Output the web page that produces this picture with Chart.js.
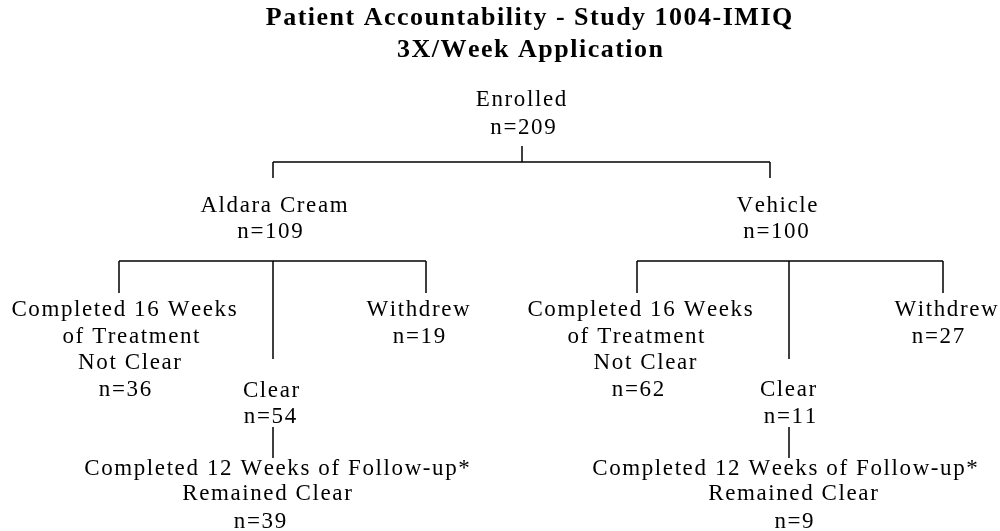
<!DOCTYPE html>
<html>
<head>
<meta charset="utf-8">
<script src="https://cdn.jsdelivr.net/npm/chart.js@4.4.1/dist/chart.umd.min.js"></script>
<style>
  html, body { margin: 0; padding: 0; background: #fff; }
  #flow { display: block; }
</style>
</head>
<body>
<canvas id="flow" width="1000" height="531"></canvas>
<script>
// chart text
const titleLines = ["Patient Accountability - Study 1004-IMIQ", "3X/Week Application"];

// flowchart boxes: label lines, patient counts, parent box
const nodeNames = [
    ["Enrolled"],
    ["Aldara Cream"],
    ["Vehicle"],
    ["Completed 16 Weeks", "of Treatment", "Not Clear"],
    ["Clear"],
    ["Withdrew"],
    ["Completed 12 Weeks of Follow-up*", "Remained Clear"],
    ["Completed 16 Weeks", "of Treatment", "Not Clear"],
    ["Clear"],
    ["Withdrew"],
    ["Completed 12 Weeks of Follow-up*", "Remained Clear"]
];
const nodeCounts = [209, 109, 100, 36, 54, 19, 39, 62, 11, 27, 9];
const nodeParents = [null, 0, 0, 1, 1, 1, 4, 2, 2, 2, 8];

// layout in chart units (x: 0..1000, y: 0..531 top-down)
const nodeX = [522, 273, 770, 119, 273, 426, 273, 637, 789, 943, 789];   // connector x
const nodeTop = [null, 178, 178, 293, 359, 293, 458, 293, 359, 293, 458]; // connector end
const barY = { 0: 162, 1: 261, 2: 261 };  // bracket line of parents with several children
const stubFrom = { 0: 146, 4: 427, 8: 427 };
const textX = [
    [521, 523], [274, 270], [777, 776],
    [124, 131, 129.5, 125], [271, 270], [418, 419], [277, 267, 260],
    [640, 636, 645, 638], [788, 790], [946, 938], [785, 793, 794]
];
const textY = [
    [100, 128], [206, 232], [206, 232],
    [310, 337, 363, 390], [391, 417], [310, 337], [469, 494, 522],
    [310, 337, 363, 390], [390, 417], [310, 337], [469, 494, 522]
];

// build connector segments from the tree
const segments = [];
nodeParents.forEach((p, i) => {
    if (p === null) return;
    const kids = nodeParents.map((q, j) => q === p ? j : -1).filter(j => j >= 0);
    if (kids.length > 1) {
        segments.push([{ x: nodeX[i], y: barY[p] }, { x: nodeX[i], y: nodeTop[i] }]);
    } else {
        segments.push([{ x: nodeX[i], y: stubFrom[p] }, { x: nodeX[i], y: nodeTop[i] }]);
    }
});
Object.keys(barY).forEach(k => {
    const p = +k;
    const xs = nodeParents.map((q, j) => q === p ? nodeX[j] : null).filter(v => v !== null);
    segments.push([{ x: Math.min(...xs), y: barY[p] }, { x: Math.max(...xs), y: barY[p] }]);
    if (stubFrom[p] !== undefined) {
        segments.push([{ x: nodeX[p], y: stubFrom[p] }, { x: nodeX[p], y: barY[p] }]);
    }
});

const datasets = segments.map(seg => ({
    type: "line",
    data: seg,
    showLine: true,
    borderColor: "#000",
    borderWidth: 1.5,
    pointRadius: 0,
    fill: false
}));

// draws text with letter spacing, centred on x
function spacedText(ctx, str, cx, cy, spacing) {
    const chars = Array.from(str);
    const widths = chars.map(c => ctx.measureText(c).width);
    const total = widths.reduce((a, b) => a + b, 0) + spacing * (chars.length - 1);
    let x = cx - total / 2;
    chars.forEach((c, k) => {
        ctx.fillText(c, x, cy);
        x += widths[k] + spacing;
    });
}

const labelPlugin = {
    id: "flowLabels",
    afterDatasetsDraw(chart) {
        const ctx = chart.ctx;
        const xs = chart.scales.x, ys = chart.scales.y;
        ctx.save();
        ctx.fillStyle = "#000";
        ctx.textAlign = "left";
        ctx.textBaseline = "middle";

        ctx.font = "bold 26px 'Liberation Serif'";
        spacedText(ctx, titleLines[0], xs.getPixelForValue(529), ys.getPixelForValue(18), 1.5);
        spacedText(ctx, titleLines[1], xs.getPixelForValue(530), ys.getPixelForValue(50), 1.5);

        ctx.font = "23px 'Liberation Serif'";
        nodeNames.forEach((lines, i) => {
            const all = lines.concat(["n=" + nodeCounts[i]]);
            all.forEach((txt, k) => {
                spacedText(ctx, txt, xs.getPixelForValue(textX[i][k]), ys.getPixelForValue(textY[i][k]), 1.6);
            });
        });
        ctx.restore();
    }
};

new Chart(document.getElementById("flow"), {
    type: "scatter",
    data: { datasets: datasets },
    options: {
        responsive: false,
        animation: false,
        layout: { padding: 0 },
        plugins: {
            legend: { display: false },
            tooltip: { enabled: false }
        },
        scales: {
            x: { type: "linear", min: 0, max: 1000, display: false },
            y: { type: "linear", min: 0, max: 531, reverse: true, display: false }
        }
    },
    plugins: [labelPlugin]
});
</script>
</body>
</html>
